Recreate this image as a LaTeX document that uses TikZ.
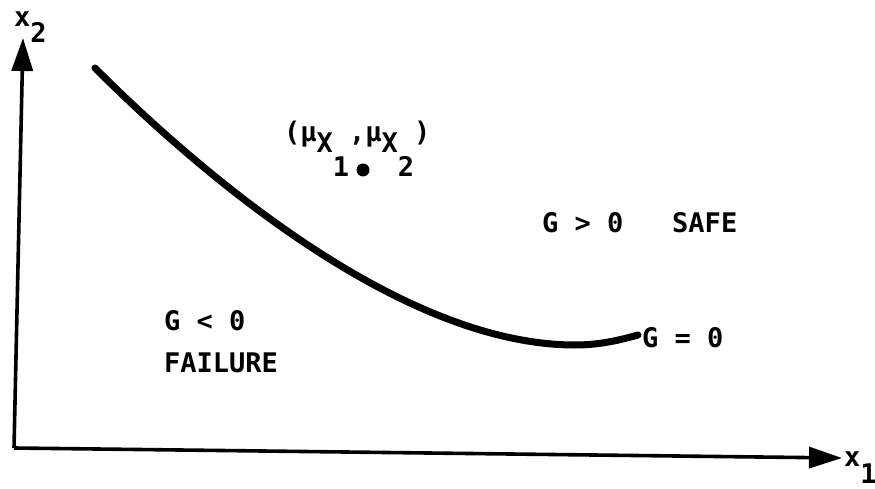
\documentclass[tikz,border=0pt]{standalone}
\usepackage{fontspec}
\newfontfamily\mono{DejaVu Sans Mono Bold}
\usetikzlibrary{arrows.meta}
\tikzset{
  axis/.style={line width=3.6pt, -{Triangle[length=33pt,width=21pt]}},
  limitcurve/.style={line width=7pt, line cap=round},
  lbl/.style={anchor=base west, inner sep=0pt, font=\mono\fontsize{27}{32}\selectfont},
}
\begin{document}
\begin{tikzpicture}[x=1pt,y=-1pt]
\useasboundingbox (0,0) rectangle (875,489);
\coordinate (O) at (14,448);
\coordinate (Ytip) at (23,38);
\coordinate (Xtip) at (842,458);
\draw[axis] (O) -- (Ytip);
\draw[axis] (O) -- (Xtip);
\node[lbl] (x2) at (14,27) {x\raisebox{-16pt}{2}};
\node[lbl] (x1) at (844,466) {x\raisebox{-17pt}{1}};
\draw[limitcurve] (95,68) .. controls (184,157) and (393,345) .. (575,345)
  .. controls (600,345) and (620,340) .. (638,335);
\fill (363,170) circle (6.5pt);
\node[lbl] (mu) at (284,142) {(μ\raisebox{-11pt}{X\raisebox{-24pt}{1}},μ\raisebox{-11pt}{X\raisebox{-24pt}{2}})};
\node[lbl] (safe) at (542,233) {G > 0\ \ \ SAFE};
\node[lbl] (geq) at (642,347) {G = 0};
\node[lbl] (fail) at (164,330) {G < 0};
\node[lbl] (failure) at (164,372) {FAILURE};
\end{tikzpicture}
\end{document}
